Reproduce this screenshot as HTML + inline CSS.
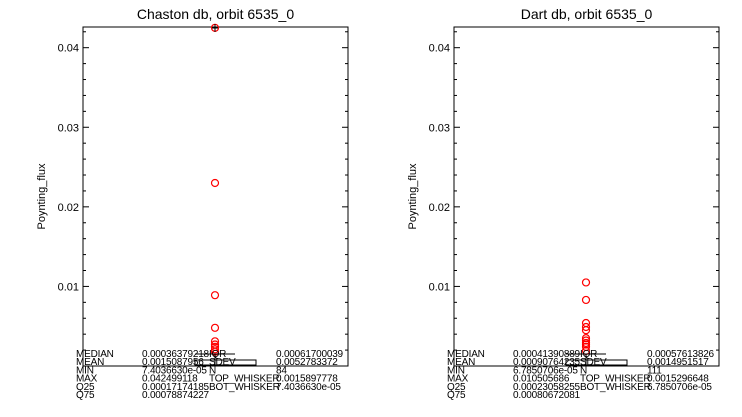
<!DOCTYPE html>
<html><head><meta charset="utf-8"><style>
body{margin:0;background:#fff;}
svg{display:block;font-family:"Liberation Sans",sans-serif;}
</style></head><body>
<svg id="c" width="742" height="417"></svg>
<script>
const titles=["Chaston db, orbit 6535_0","Dart db, orbit 6535_0"];
const yTicks=[0.01,0.02,0.03,0.04];
const yTickLabels=["0.01","0.02","0.03","0.04"];
const outliersA=[0.0425,0.023,0.0089,0.0048,0.0031,0.0027,0.0024,0.0021,0.0018];
const outliersB=[0.0105,0.0083,0.0054,0.0049,0.0045,0.0035,0.0032,0.0029,0.0027,0.0024,0.0019];
const statsA=[["MEDIAN","0.00036379218","IQR","0.00061700039"],["MEAN","0.0015087956","SDEV","0.0052783372"],["MIN","7.4036630e-05","N","84"],["MAX","0.042499118","TOP_WHISKER","0.0015897778"],["Q25","0.00017174185","BOT_WHISKER","7.4036630e-05"],["Q75","0.00078874227","",""]];
const statsB=[["MEDIAN","0.00041390889","IQR","0.00057613826"],["MEAN","0.00090764235","SDEV","0.0014951517"],["MIN","6.7850706e-05","N","111"],["MAX","0.010505686","TOP_WHISKER","0.0015296648"],["Q25","0.00023058255","BOT_WHISKER","6.7850706e-05"],["Q75","0.00080672081","",""]];
const svg=document.getElementById('c');const NS="http://www.w3.org/2000/svg";
function mk(t,a,p){const e=document.createElementNS(NS,t);for(const k in a)e.setAttribute(k,a[k]);(p||svg).appendChild(e);return e;}
function panel(x0,x1,title,outs,stats,sx,name){
  const top=27,bot=366,ymax=0.0426;
  const y=v=>bot-(v/ymax)*(bot-top);
  const g=mk('g',{});
  
  
  const t=mk('text',{x:(x0+x1)/2,y:19,'text-anchor':'middle','font-size':14},g);t.textContent=title;
  
  const r=mk('rect',{x:x0,y:top,width:x1-x0,height:bot-top,fill:'none',stroke:'#000','stroke-width':1},g);
  
  for(let v=0.002;v<ymax;v+=0.002){const yy=y(v);const maj=Math.abs(v/0.01-Math.round(v/0.01))<1e-6;const L=maj?6:3;
    mk('line',{x1:x0,x2:x0+L,y1:yy,y2:yy,stroke:'#000'},g);mk('line',{x1:x1-L,x2:x1,y1:yy,y2:yy,stroke:'#000'},g);}
  yTicks.forEach((v,i)=>{const tl=mk('text',{x:x0-4,y:y(v)+4,'text-anchor':'end','font-size':11},g);tl.textContent=yTickLabels[i];
    });
  const yl=mk('text',{x:0,y:0,'text-anchor':'middle','font-size':11,transform:`translate(${x0-38},${(top+bot)/2}) rotate(-90)`},g);yl.textContent="Poynting_flux";
  
  const cx=sx;
  outs.forEach(v=>{const c=mk('circle',{cx:cx,cy:y(v),r:3.5,fill:'none',stroke:'#f00','stroke-width':1.2},g);
    });
  if(outs[0]>0.04){mk('line',{x1:cx,x2:cx,y1:top-3,y2:top+5,stroke:'#000'},g);mk('line',{x1:cx-3,x2:cx+3,y1:top+1,y2:top+1,stroke:'#000'},g);}
  const b=mk('rect',{x:cx-20,y:360,width:61,height:5,fill:'none',stroke:'#000'},g);
  
  mk('line',{x1:cx-20,x2:cx+20,y1:354,y2:354,stroke:'#000'},g);
  mk('line',{x1:cx,x2:cx,y1:354,y2:366,stroke:'#000'},g);
  const cols=[x0-7,x0+59,x0+126,x0+193];
  stats.forEach((row,i)=>row.forEach((s,j)=>{if(!s)return;const tt=mk('text',{x:cols[j],y:357+i*8.2,'font-size':10,'letter-spacing':-0.2},g);tt.textContent=s;
    }));
}
panel(83,348,titles[0],outliersA,statsA,215,'left-panel');
panel(454,719,titles[1],outliersB,statsB,586,'right-panel');
</script>
</body></html>
